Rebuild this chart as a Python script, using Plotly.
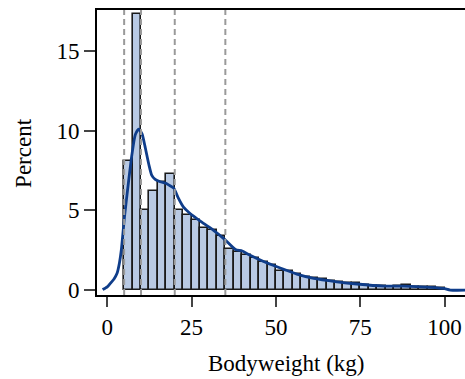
import plotly.graph_objects as go

# Histogram bins (centres, width 2.5 kg) and percentages
bin_centers = [6.25, 8.75, 11.25, 13.75, 16.25, 18.75, 21.25, 23.75, 26.25, 28.75,
               31.25, 33.75, 36.25, 38.75, 41.25, 43.75, 46.25, 48.75, 51.25, 53.75,
               56.25, 58.75, 61.25, 63.75, 66.25, 68.75, 71.25, 73.75, 76.25, 78.75,
               81.25, 83.75, 86.25, 88.75, 91.25, 93.75, 96.25, 98.75]
percent = [8.1, 17.3, 5.0, 6.2, 6.8, 7.3, 5.0, 4.7, 4.4, 3.9,
           3.8, 3.4, 2.55, 2.4, 2.2, 2.0, 1.75, 1.6, 1.22, 1.2,
           1.0, 0.85, 0.75, 0.68, 0.58, 0.5, 0.46, 0.42, 0.33, 0.27,
           0.25, 0.21, 0.25, 0.33, 0.21, 0.21, 0.17, 0.15]
bin_width = 2.5

# Density curve
kde_x = [-1.4, 0.0, 0.9, 2.0, 2.9, 3.6, 4.15, 5.1, 6.3, 7.3, 8.3, 9.3, 10.3, 11.3,
         12.3, 13.2, 14.2, 15.7, 17.2, 18.2, 19.7, 21.0, 22.6, 24.3, 27.8, 31.7,
         34.7, 38.0, 40.0, 42.2, 46.5, 50.3, 52.3, 54.3, 56.2, 61.2, 68.1, 74.0,
         81.9, 87.9, 95.8, 99.7, 101.7, 108.0]
kde_y = [0.03, 0.2, 0.42, 0.7, 1.05, 1.7, 2.5, 4.6, 6.8, 8.5, 9.75, 10.1, 9.8, 8.9,
         7.9, 7.2, 6.95, 6.8, 6.72, 6.6, 6.4, 5.8, 5.2, 4.85, 4.29, 3.72,
         3.2, 2.55, 2.45, 2.2, 1.78, 1.46, 1.3, 1.15, 1.0, 0.73, 0.52, 0.38,
         0.25, 0.25, 0.17, 0.1, 0.0, 0.0]

ref_lines = [5, 10, 20, 35]
x_ticks = [0, 25, 50, 75, 100]
y_ticks = [0, 5, 10, 15]

FONT = "Liberation Serif"
FS = 23

fig = go.Figure()
fig.add_trace(go.Bar(
    x=bin_centers, y=percent, width=bin_width,
    marker=dict(color="#b9cae4", line=dict(color="#1a1a1a", width=1.6)),
    showlegend=False,
))
fig.add_trace(go.Scatter(
    x=kde_x, y=kde_y, mode="lines",
    line=dict(color="#0f3d8a", width=2.8, shape="spline", smoothing=0.6),
    showlegend=False,
))

for v in ref_lines:
    fig.add_shape(type="line", x0=v, x1=v, y0=0, y1=1, xref="x", yref="paper",
                  line=dict(color="#9a9a9a", width=2, dash="6px,4px"), layer="above")

fig.update_layout(
    width=465, height=379,
    margin=dict(l=97, r=0, t=10, b=84),
    paper_bgcolor="white", plot_bgcolor="white",
    font=dict(family=FONT, size=FS, color="black"),
    bargap=0,
    xaxis=dict(range=[-3.05, 106.05], tickvals=x_ticks, ticks="outside", ticklen=10,
               tickwidth=2, showline=True, linewidth=2, linecolor="black", mirror=True,
               showgrid=False, zeroline=False, tickfont=dict(size=FS)),
    yaxis=dict(range=[-0.31, 17.58], tickvals=y_ticks, ticks="outside", ticklen=11,
               tickwidth=2, showline=True, linewidth=2, linecolor="black",
               showgrid=False, zeroline=False, tickfont=dict(size=FS)),
    annotations=[
        dict(text="Bodyweight (kg)", xref="paper", yref="paper", x=0.5155, y=-0.24,
             xanchor="center", yanchor="middle", showarrow=False, font=dict(size=FS)),
        dict(text="Percent", xref="paper", yref="paper", x=-0.2, y=0.5,
             xanchor="center", yanchor="middle", textangle=-90, showarrow=False,
             font=dict(size=FS)),
    ],
)

fig.write_html("out.html")
